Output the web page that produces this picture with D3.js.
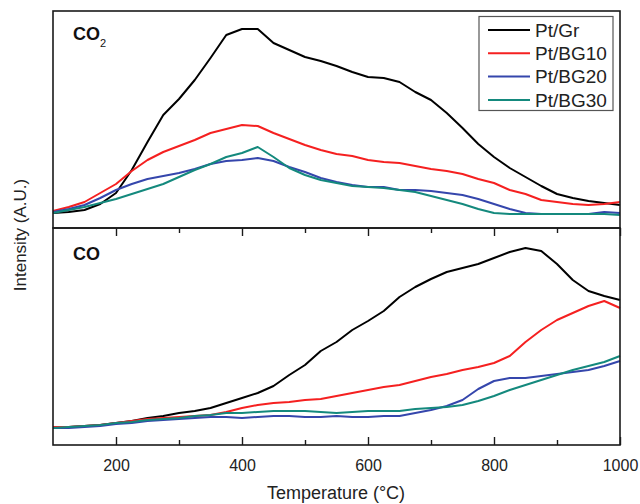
<html>
  <head>
	<meta charset="utf-8">
	<title>TPD CO2 / CO</title>
	<script src="https://d3js.org/d3.v7.min.js"></script>
	<style>
	  body { margin: 0; background: #fff; }
	  text { font-family: Arial, "Liberation Sans", sans-serif; }
	</style>
  </head>
  <body>

  <svg width="640" height="504"></svg>

	<script type="text/javascript">

    // temperatura (°C)
    var temps = [100,125,150,175,200,225,250,275,300,325,350,375,400,425,450,475,500,525,550,575,
                 600,625,650,675,700,725,750,775,800,825,850,875,900,925,950,975,1000];

    // sinal CO2 (u.a.)
    var co2Gr   = [15,16,18,24,35,58,86,113,129,148,170,193,199,199,185,178,171,167,162,156,
                   151,150,146,136,128,115,100,84,71,60,51,42,34,30,27,25,23];
    var co2BG10 = [17,21,26,35,44,57,68,76,82,88,95,99,103,102,95,89,83,78,74,72,
                   68,66,65,62,59,57,54,49,45,38,34,28,26,24,23,24,26];
    var co2BG20 = [16,19,23,30,38,44,49,52,55,59,64,67,68,70,67,61,56,50,46,43,
                   41,41,38,38,37,35,33,29,24,19,15,14,14,14,14,16,15];
    var co2BG30 = [15,18,21,25,29,34,39,44,51,58,64,71,75,81,71,60,53,48,45,42,
                   41,40,38,36,32,28,24,19,15,14,14,14,14,14,14,14,13];

    // sinal CO (u.a.)
    var coGr   = [18,18,19,20,22,24,27,29,32,34,37,42,47,52,59,70,80,94,103,115,
                  124,134,148,158,166,173,177,181,187,193,197,194,181,165,154,149,145];
    var coBG10 = [18,18,19,20,22,24,26,27,28,29,30,33,37,40,42,43,45,46,49,52,
                  55,58,60,64,68,71,75,78,82,89,103,115,125,132,139,144,137];
    var coBG20 = [17,17,18,19,21,22,24,25,26,27,28,28,27,28,29,29,28,28,29,28,
                  28,29,29,32,35,39,45,56,64,67,67,69,71,73,75,79,84];
    var coBG30 = [17,18,19,20,22,23,25,26,27,29,30,32,32,33,34,34,34,33,32,33,
                  34,34,34,36,37,38,40,44,49,55,60,65,70,75,79,83,89];

    var nomes = ["Pt/Gr","Pt/BG10","Pt/BG20","Pt/BG30"];
    var cores = ["#000000","#f52020","#3546ac","#14897d"];
    var ticksMaiores = [200,400,600,800,1000];
    var ticksMenores = [300,500,700,900];

    var svg = d3.select("svg");

    var left = 53, right = 620, top1 = 11, meio = 228, baixo = 445;

    var escalaX = d3.scaleLinear().domain([100,1000]).range([left,right]);
    var escalaY1 = d3.scaleLinear().domain([0,217]).range([meio,top1]);
    var escalaY2 = d3.scaleLinear().domain([0,217]).range([baixo,meio]);

    function desenhaPainel(series, escalaY){
        var linha = d3.line()
            .x((d,i)=>escalaX(temps[i]))
            .y(d=>escalaY(d));
        svg.append("g").selectAll("path")
            .data(series)
            .enter()
            .append("path")
            .attr("d", d=>linha(d))
            .attr("fill","none")
            .attr("stroke",(d,i)=>cores[i])
            .attr("stroke-width",2)
            .attr("stroke-linejoin","round");
    }

    desenhaPainel([co2Gr,co2BG10,co2BG20,co2BG30], escalaY1);
    desenhaPainel([coGr,coBG10,coBG20,coBG30], escalaY2);

    // molduras
    svg.append("rect").attr("x",left).attr("y",top1)
        .attr("width",right-left).attr("height",meio-top1)
        .attr("fill","none").attr("stroke","#1a1a1a").attr("stroke-width",1.6);
    svg.append("rect").attr("x",left).attr("y",meio)
        .attr("width",right-left).attr("height",baixo-meio)
        .attr("fill","none").attr("stroke","#1a1a1a").attr("stroke-width",1.6);

    // eixo X inferior
    var eixoX = d3.axisBottom(escalaX).tickValues(ticksMaiores).tickSize(-8).tickPadding(14.5)
        .tickFormat(d3.format("d"));
    var gX = svg.append("g").attr("transform","translate(0,"+baixo+")").call(eixoX);
    var gXm = svg.append("g").attr("transform","translate(0,"+baixo+")")
        .call(d3.axisBottom(escalaX).tickValues(ticksMenores).tickSize(-5).tickFormat(""));

    // ticks no meio (apontando para baixo)
    var gMeio = svg.append("g").attr("transform","translate(0,"+meio+")")
        .call(d3.axisBottom(escalaX).tickValues(ticksMaiores).tickSize(8).tickFormat(""));
    var gMeioM = svg.append("g").attr("transform","translate(0,"+meio+")")
        .call(d3.axisBottom(escalaX).tickValues(ticksMenores).tickSize(5).tickFormat(""));

    [gX,gXm,gMeio,gMeioM].forEach(function(g){
        g.select(".domain").remove();
        g.selectAll("line").attr("stroke","#1a1a1a").attr("stroke-width",1.4);
        g.selectAll("text").attr("font-size",16).attr("fill","#222")
            .style("font-family","Arial, 'Liberation Sans', sans-serif");
    });

    // titulos
    svg.append("text").attr("x",336).attr("y",499)
        .attr("text-anchor","middle").attr("font-size",18).attr("fill","#222")
        .text("Temperature (°C)");

    svg.append("text")
        .attr("transform","translate(26,235) rotate(-90)")
        .attr("text-anchor","middle").attr("font-size",17).attr("fill","#222")
        .text("Intensity (A.U.)");

    var rot1 = svg.append("text").attr("x",73).attr("y",40)
        .attr("font-size",18).attr("font-weight","bold").attr("fill","#111");
    rot1.append("tspan").text("CO");
    rot1.append("tspan").attr("font-size",11).attr("font-weight","normal").attr("dy",7).text("2");

    svg.append("text").attr("x",73).attr("y",260)
        .attr("font-size",18).attr("font-weight","bold").attr("fill","#111")
        .text("CO");

    // legenda
    var leg = svg.append("g");
    leg.append("rect").attr("x",479).attr("y",16.5).attr("width",134).attr("height",94)
        .attr("fill","#fff").attr("stroke","#555").attr("stroke-width",1.2);
    var itens = leg.selectAll("g.item").data(nomes).enter().append("g")
        .attr("transform",(d,i)=>"translate(0,"+(30+i*23.3)+")");
    itens.append("line").attr("x1",488).attr("x2",530).attr("y1",0).attr("y2",0)
        .attr("stroke",(d,i)=>cores[i]).attr("stroke-width",2);
    itens.append("text").attr("x",535).attr("y",0).attr("dy","0.35em")
        .attr("font-size",19).attr("fill","#222").text(d=>d);

	</script>
  </body>

</html>
